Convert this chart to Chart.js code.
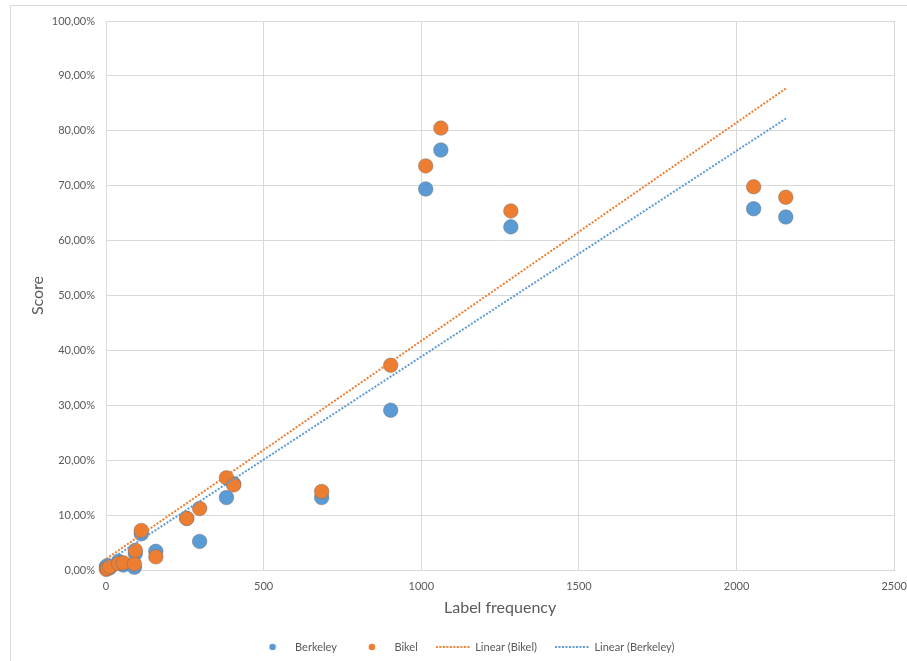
<!DOCTYPE html>
<html>
<head>
<meta charset="utf-8">
<script src="https://cdn.jsdelivr.net/npm/chart.js@4/dist/chart.umd.min.js"></script>
<style>
  body { margin: 0; background: #fff; }
  #wrap { position: relative; width: 907px; height: 661px; }
  #frame { position: absolute; left: 10px; top: 5px; right: -2px; bottom: -2px;
           border-left: 1px solid #d9d9d9; border-top: 1px solid #d9d9d9; }
  canvas { position: absolute; left: 0; top: 0; }
</style>
</head>
<body>
<div id="wrap">
  <div id="frame"></div>
  <canvas id="chart" width="907" height="661"></canvas>
</div>
<script>
// label frequency per label, and score (%) for each parser
var frequency = [1, 5, 12, 40, 55, 90, 93, 112, 158, 256, 297, 382, 405, 684, 903, 1014, 1062, 1284, 2054, 2156];
var berkeley  = [0.6, 0.8, 0.4, 1.6, 0.9, 0.5, 3.0, 6.6, 3.4, 9.4, 5.2, 13.2, 15.7, 13.2, 29.1, 69.4, 76.5, 62.5, 65.8, 64.3];
var bikel     = [0.1, 0.3, 0.6, 1.2, 1.3, 1.1, 3.6, 7.2, 2.4, 9.4, 11.2, 16.8, 15.5, 14.3, 37.3, 73.6, 80.5, 65.4, 69.8, 67.9];

var xTicks = [0, 500, 1000, 1500, 2000, 2500];
var yTicks = [0, 10, 20, 30, 40, 50, 60, 70, 80, 90, 100];

var BLUE = '#5b9bd5';
var ORANGE = '#ed7d31';
var TEXT = '#595959';
var GRID = '#d9d9d9';

function points(ys) {
  return frequency.map(function (x, i) { return { x: x, y: ys[i] }; });
}

// least squares line, drawn from smallest to largest frequency
function trend(ys) {
  var n = frequency.length, sx = 0, sy = 0, sxx = 0, sxy = 0;
  for (var i = 0; i < n; i++) {
    sx += frequency[i]; sy += ys[i];
    sxx += frequency[i] * frequency[i]; sxy += frequency[i] * ys[i];
  }
  var slope = (n * sxy - sx * sy) / (n * sxx - sx * sx);
  var icpt = (sy - slope * sx) / n;
  var lo = Math.min.apply(null, frequency), hi = Math.max.apply(null, frequency);
  return [{ x: lo, y: icpt + slope * lo }, { x: hi, y: icpt + slope * hi }];
}

function dotIcon(color) {
  var c = document.createElement('canvas');
  c.width = 8; c.height = 8;
  var g = c.getContext('2d');
  g.fillStyle = color;
  g.beginPath(); g.arc(4, 4, 3.3, 0, Math.PI * 2); g.fill();
  return c;
}

function dashIcon(color) {
  var c = document.createElement('canvas');
  c.width = 34; c.height = 2;
  var g = c.getContext('2d');
  g.fillStyle = color;
  for (var x = 0; x < 34; x += 3.5) g.fillRect(x, 0, 2, 2);
  return c;
}

// first dataset is drawn on top, legend is reversed back
var icons = [dashIcon(BLUE), dashIcon(ORANGE), dotIcon(ORANGE), dotIcon(BLUE)];

var ctx = document.getElementById('chart');

var chartGraph = new Chart(ctx, {
  type: 'scatter',
  data: {
    datasets: [{
      label: 'Linear (Berkeley)',
      data: trend(berkeley),
      showLine: true,
      borderColor: BLUE,
      backgroundColor: BLUE,
      borderWidth: 2,
      borderDash: [2, 1.6],
      pointRadius: 0
    }, {
      label: 'Linear (Bikel)',
      data: trend(bikel),
      showLine: true,
      borderColor: ORANGE,
      backgroundColor: ORANGE,
      borderWidth: 2,
      borderDash: [2, 1.6],
      pointRadius: 0
    }, {
      label: 'Bikel',
      data: points(bikel),
      backgroundColor: ORANGE,
      borderColor: 'rgba(110,110,110,0.45)',
      borderWidth: 1,
      pointRadius: 7.3
    }, {
      label: 'Berkeley',
      data: points(berkeley),
      backgroundColor: BLUE,
      borderColor: 'rgba(110,110,110,0.45)',
      borderWidth: 1,
      pointRadius: 7.3
    }]
  },
  options: {
    responsive: false,
    animation: false,
    devicePixelRatio: 1,
    clip: false,
    layout: { padding: { left: 24, right: 1, top: 21, bottom: 0 } },
    plugins: {
      tooltip: { enabled: false },
      legend: {
        position: 'bottom',
        reverse: true,
        maxHeight: 37.5,
        labels: {
          usePointStyle: true,
          pointStyleWidth: 34,
          padding: 18,
          color: TEXT,
          font: { family: 'Lato', size: 11 },
          generateLabels: function (chart) {
            var items = Chart.defaults.plugins.legend.labels.generateLabels(chart);
            items.forEach(function (it) { it.pointStyle = icons[it.datasetIndex]; });
            return items;
          }
        }
      }
    },
    scales: {
      x: {
        type: 'linear',
        min: 0,
        max: 2500,
        afterBuildTicks: function (scale) {
          scale.ticks = xTicks.map(function (v) { return { value: v }; });
        },
        afterFit: function (scale) { scale.height = 53.5; },
        // invisible tick marks keep the labels off the axis
        grid: { color: GRID, drawTicks: true, tickLength: 10, tickColor: 'rgba(0,0,0,0)' },
        border: { color: GRID },
        ticks: {
          color: TEXT,
          padding: 0,
          font: { family: 'Lato', size: 11 },
          callback: function (v) { return String(v); }
        },
        title: {
          display: true,
          text: 'Label frequency',
          color: TEXT,
          padding: { top: 0, bottom: 6 },
          font: { family: 'Lato', size: 16 }
        }
      },
      y: {
        min: 0,
        max: 100,
        afterBuildTicks: function (scale) {
          scale.ticks = yTicks.map(function (v) { return { value: v }; });
        },
        afterFit: function (scale) { scale.width = 82; },
        grid: { color: GRID, drawTicks: false },
        border: { color: GRID },
        ticks: {
          color: TEXT,
          padding: 11,
          font: { family: 'Lato', size: 11 },
          callback: function (v) { return v.toFixed(2).replace('.', ',') + '%'; }
        },
        title: {
          display: true,
          text: 'Score',
          color: TEXT,
          padding: { top: 4.4, bottom: 0 },
          font: { family: 'Lato', size: 16 }
        }
      }
    }
  }
});
</script>
</body>
</html>
